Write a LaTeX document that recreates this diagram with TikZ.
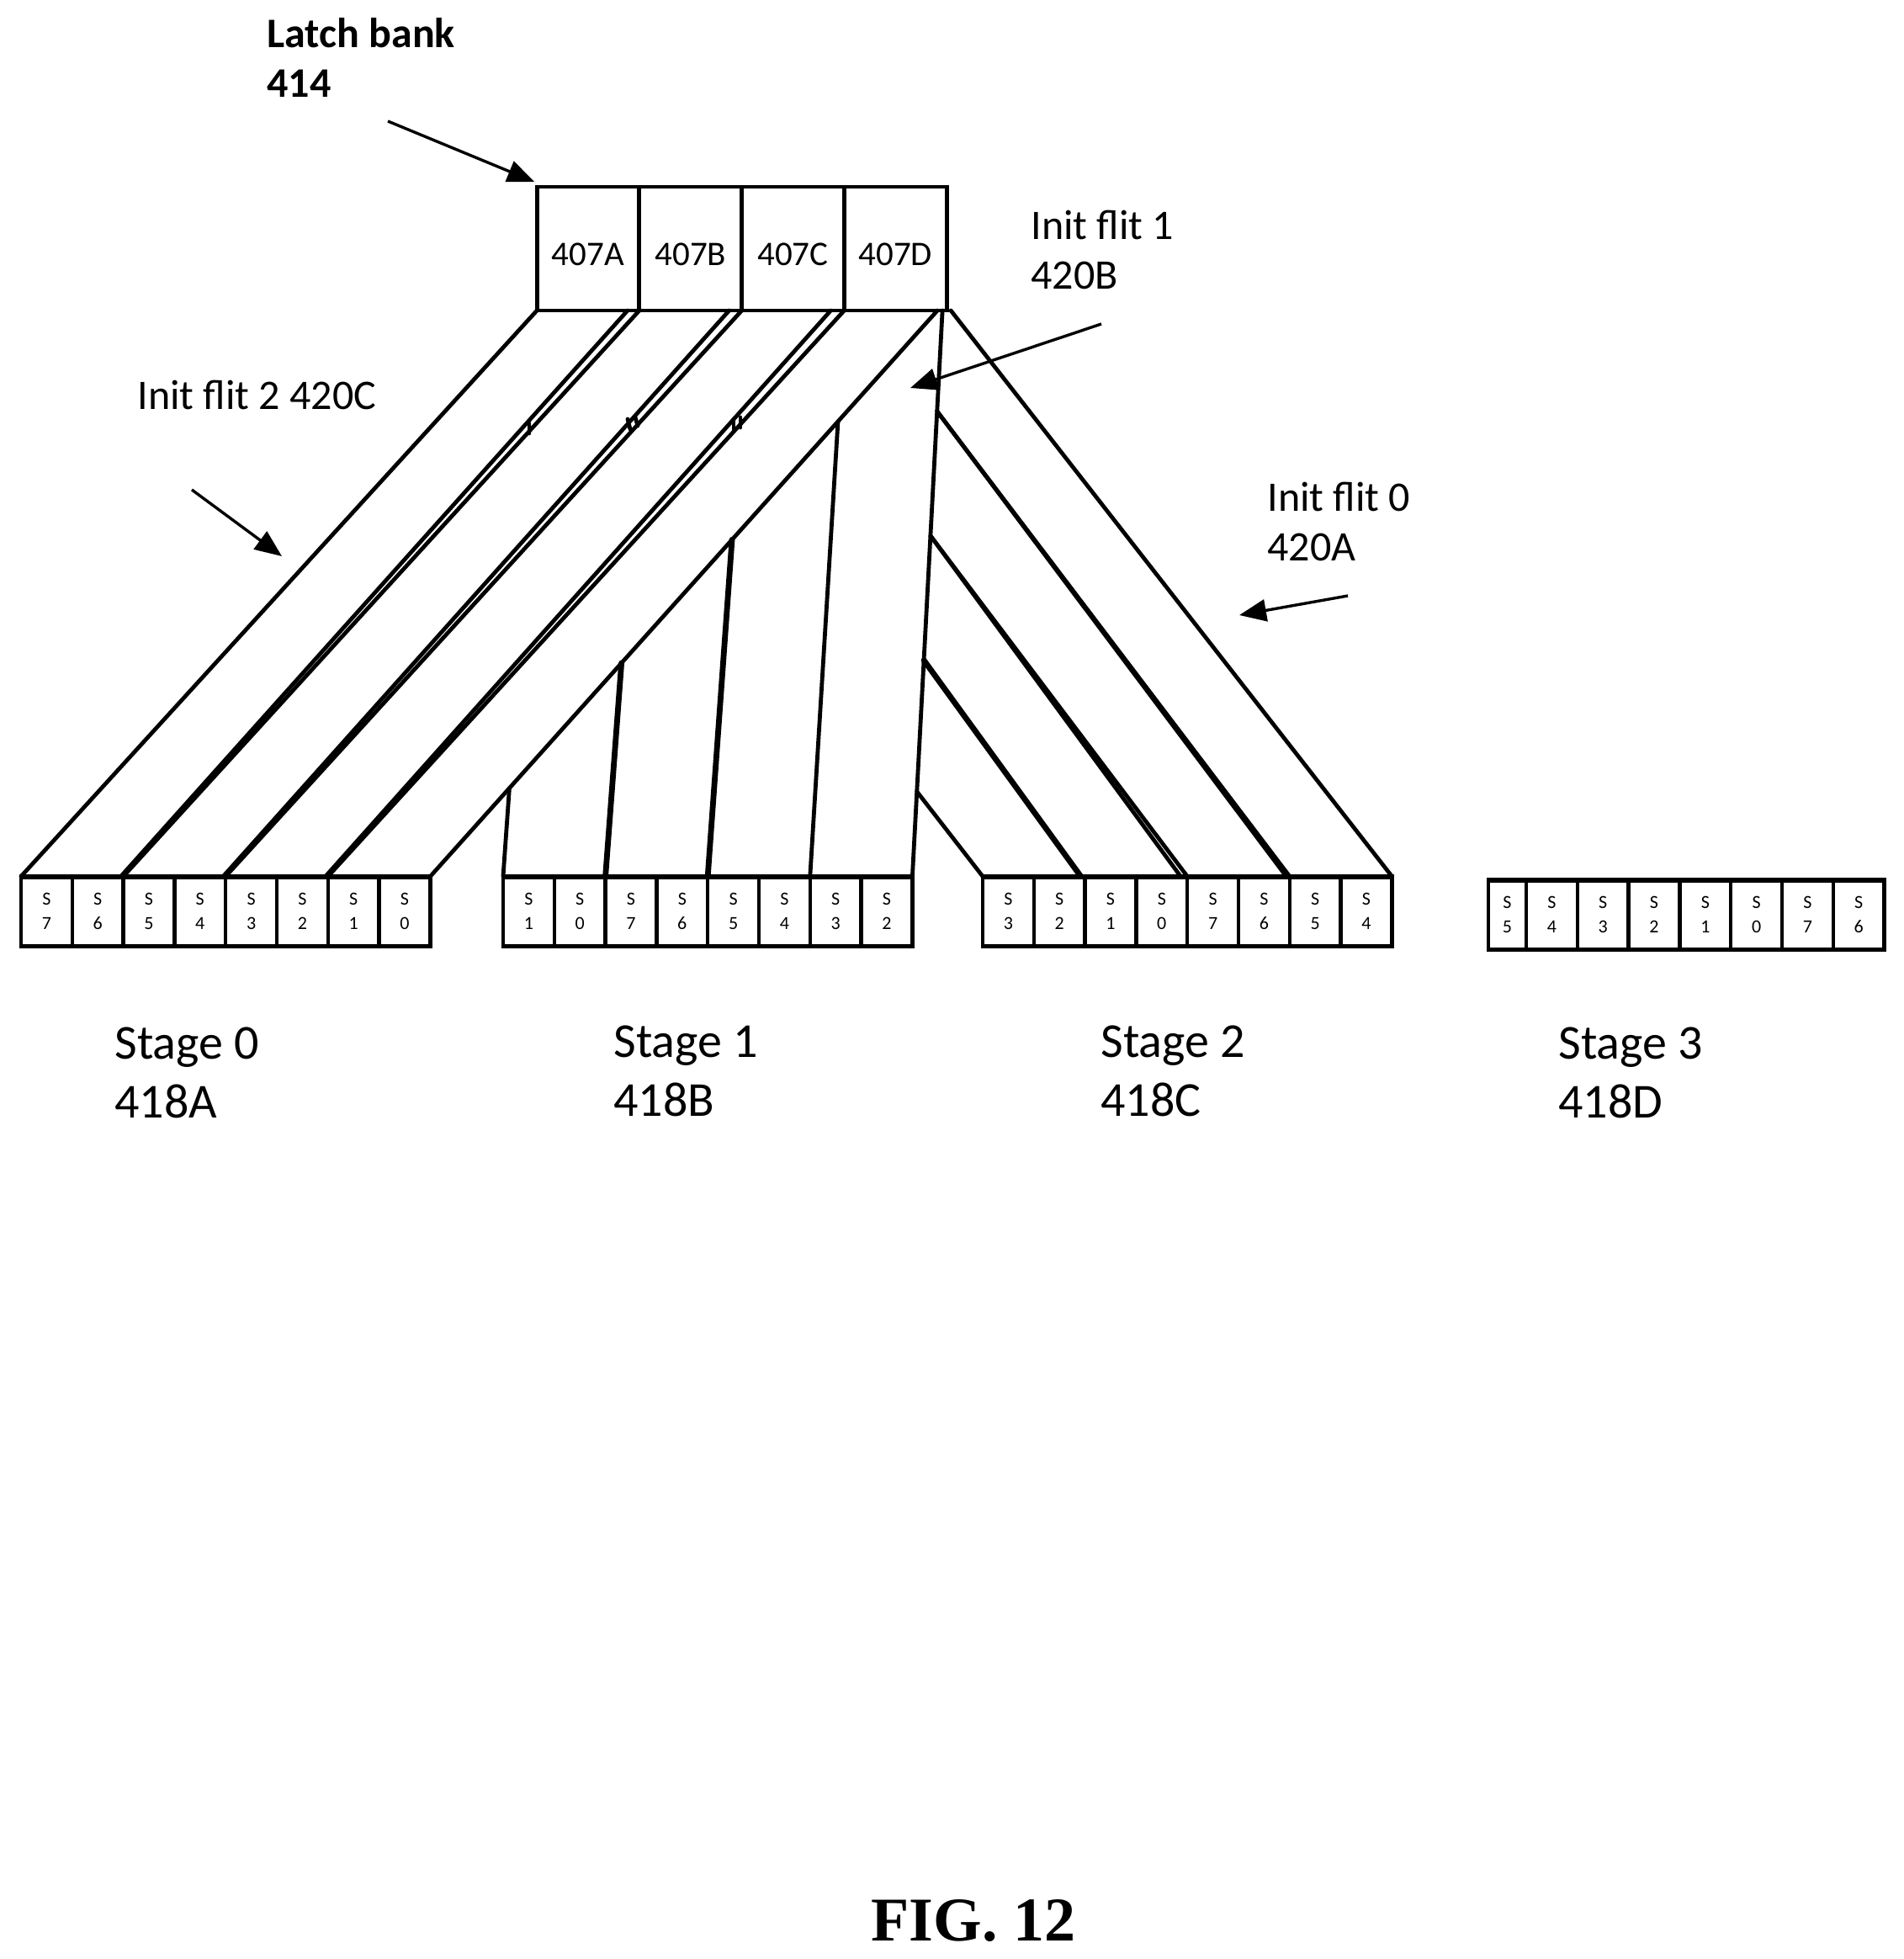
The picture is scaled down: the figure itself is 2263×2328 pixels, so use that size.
\documentclass[tikz,border=0pt]{standalone}
\usepackage{fontspec}
\setmainfont{Carlito}
\newfontfamily\figfont{Liberation Serif}
\usetikzlibrary{arrows.meta, calc, positioning}

\tikzset{
	wire/.style={line width=2.4pt, line cap=round},
	heavywire/.style={line width=3.4pt, line cap=round},
	pointer/.style={line width=1.7pt, -{Triangle[length=16pt,width=13pt]}},
	latchcell/.style={draw, line width=2.4pt, minimum width=60.875pt, minimum height=73.5pt, inner sep=0pt, outer sep=0pt, font=\fontsize{20.5}{24}\selectfont},
	stagecell/.style={draw, line width=2.25pt, minimum height=41.5pt, inner sep=0pt, outer sep=0pt, align=center, font=\fontsize{11}{14.5}\selectfont},
	caption/.style={anchor=west, inner sep=0pt, align=left, font=\fontsize{25}{29.5}\selectfont},
	stagecaption/.style={anchor=west, inner sep=0pt, align=left, font=\fontsize{29}{35}\selectfont},
}

\begin{document}
\begin{tikzpicture}[x=0.5pt, y=-0.5pt]

\def \xcw{60.8}

\useasboundingbox (0,0) rectangle (2263,2328);

% latch bank
\foreach \n/\x in {A/699, B/820.75, C/942.5, D/1064.25} {
	\node[latchcell] (latch\n) at (\x, 295.5) {\raisebox{-10pt}[0pt][0pt]{407\n}};
}

% stage rows
\foreach \row/\xs/\ys/\xfw/\labels in {
	0/25/1041.5/60.8/{7,6,5,4,3,2,1,0},
	1/598/1041.5/60.8/{1,0,7,6,5,4,3,2},
	2/1168/1041.5/60.8/{3,2,1,0,7,6,5,4},
	3/1769/1045.5/45/{5,4,3,2,1,0,7,6}} {
	\foreach \l [count=\i] in \labels {
		\pgfmathsetmacro{\xa}{\i==1 ? \xs : \xs+\xfw+(\i-2)*\xcw}
		\pgfmathsetmacro{\xwid}{\i==1 ? \xfw : \xcw}
		\node[stagecell, minimum width=\xwid*0.5pt, anchor=north west] (r\row c\i) at (\xa, \ys) {S\\\l};
	}
	\draw[line width=3pt] (r\row c1.north west) -- (r\row c8.north east); % top rule
	\draw[line width=2.5pt] (r\row c1.south west) -- (r\row c8.south east); % bottom rule
}

% init flit 2
\coordinate (fan0 top) at ($(latchD.south east)+(-11,0)$);
\draw[wire] (latchA.south west) -- (r0c1.north west);
\draw[wire] (latchA.south east) -- (r0c3.north west);
\draw[wire] ($(latchA.south east)+(-14,0)$) -- ($(r0c3.north west)+(-3,0)$);
\draw[wire] (latchB.south east) -- (r0c5.north west);
\draw[wire] ($(latchB.south east)+(-15,0)$) -- ($(r0c5.north west)+(-3,0)$);
\draw[wire] (latchC.south east) -- (r0c7.north west);
\draw[wire] ($(latchC.south east)+(-16,0)$) -- ($(r0c7.north west)+(-3,0)$);
\draw[wire] (fan0 top) -- (r0c8.north east);

% small ticks between the doubled lines
\draw[wire] (629,503) -- (629,515);
\draw[wire] (746,498) -- (749,510);
\draw[wire] (755,496) -- (758,506);
\draw[wire] (872,498) -- (872,512);
\draw[wire] (880,496) -- (880,508);

% init flit 1
\coordinate (fan1 top) at ($(latchD.south east)+(-5,0)$);
\draw[wire] (fan1 top) -- (r1c8.north east);
\draw[wire] ($(fan0 top)!0.844!(r0c8.north east)$) -- (r1c1.north west);
\draw[heavywire] ($(fan0 top)!0.623!(r0c8.north east)$) -- (r1c3.north west);
\draw[heavywire] ($(fan0 top)!0.405!(r0c8.north east)$) -- (r1c5.north west);
\draw[wire] ($(fan0 top)!0.196!(r0c8.north east)$) -- (r1c7.north west);

% init flit 0
\draw[wire] ($(latchD.south east)+(5,0)$) -- (r2c8.north east);
\draw[wire] ($(fan1 top)!0.178!(r1c8.north east)$) -- (r2c7.north west);
\draw[wire] ($(fan1 top)!0.178!(r1c8.north east)$) -- ($(r2c7.north west)+(-4,0)$);
\draw[wire] ($(fan1 top)!0.398!(r1c8.north east)$) -- (r2c5.north west);
\draw[wire] ($(fan1 top)!0.398!(r1c8.north east)$) -- ($(r2c5.north west)+(-8,0)$);
\draw[heavywire] ($(fan1 top)!0.618!(r1c8.north east)$) -- ($(r2c3.north west)+(-5,0)$);
\draw[wire] ($(fan1 top)!0.85!(r1c8.north east)$) -- (r2c1.north west);

% labels
\node[caption, font=\fontsize{25}{29.5}\selectfont\bfseries] (latch text) at (317, 68) {Latch bank\\414};
\node[caption] (flit1 text) at (1225, 297) {Init flit 1\\420B};
\node[caption] (flit2 text) at (163, 469) {Init flit 2 420C};
\node[caption] (flit0 text) at (1506, 620) {Init flit 0\\420A};

\node[stagecaption] (stage0 text) at (136, 1275) {Stage 0\\418A};
\node[stagecaption] (stage1 text) at (729, 1273) {Stage 1\\418B};
\node[stagecaption] (stage2 text) at (1308, 1273) {Stage 2\\418C};
\node[stagecaption] (stage3 text) at (1852, 1275) {Stage 3\\418D};

\node[inner sep=0pt, font=\fontsize{37}{44}\selectfont\figfont\bfseries] (fig text) at (1157, 2282) {FIG. 12};

% pointers
\coordinate (latch tail) at (461,144);
\coordinate (flit2 tail) at (228,582);
\coordinate (flit2 head) at (335,661);
\coordinate (flit1 tail) at (1309,385);
\coordinate (flit1 head) at (1082,461);
\coordinate (flit0 tail) at (1602,708);
\coordinate (flit0 head) at (1473,731);
\draw[pointer] (latch tail) -- ($(latchA.north west)+(-3,-6)$);
\draw[pointer] (flit2 tail) -- (flit2 head);
\draw[pointer] (flit1 tail) -- (flit1 head);
\draw[pointer] (flit0 tail) -- (flit0 head);

\end{tikzpicture}
\end{document}
